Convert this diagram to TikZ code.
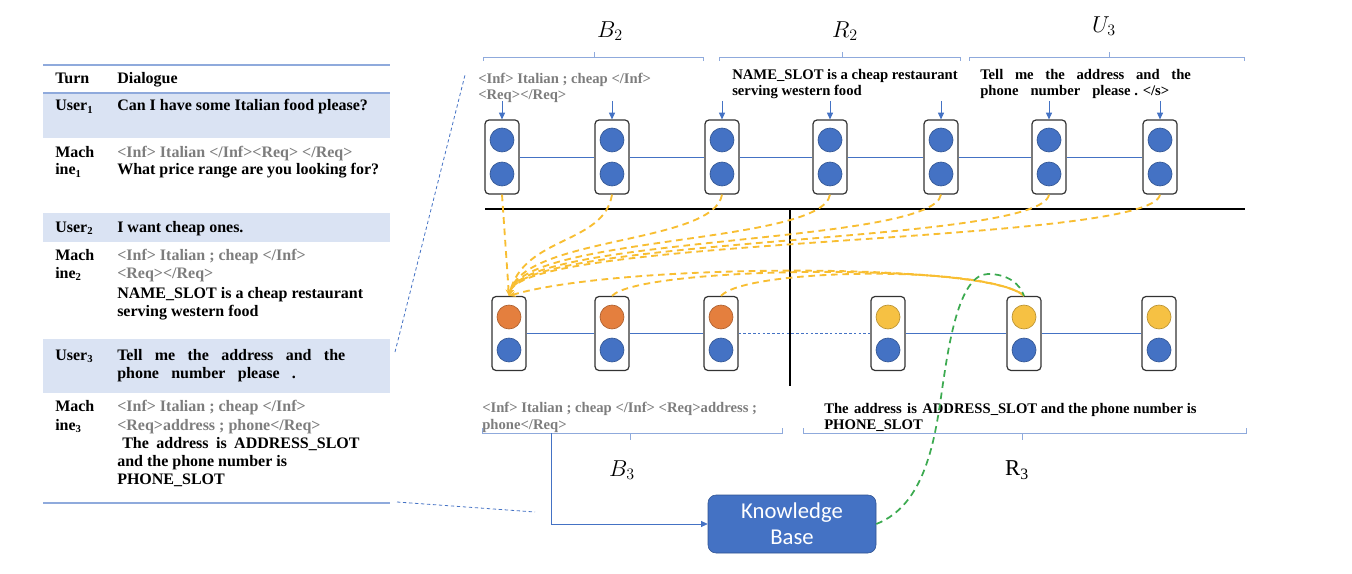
\documentclass[tikz,border=0pt]{standalone}
\usepackage{fontspec}
\setmainfont{Liberation Serif}
\newfontfamily\kbfont{Carlito}
\usetikzlibrary{arrows.meta}
\definecolor{cellblue}{RGB}{68,114,196}
\definecolor{cellrim}{RGB}{47,82,143}
\definecolor{tokorange}{RGB}{228,127,62}
\definecolor{tokgold}{RGB}{246,193,67}
\definecolor{attnyellow}{RGB}{248,190,50}
\definecolor{kbgreen}{RGB}{60,170,80}
\definecolor{rowshade}{RGB}{218,227,243}
\definecolor{ruleblue}{RGB}{143,170,220}
\definecolor{slotgray}{RGB}{125,125,125}

\begin{document}
\begin{tikzpicture}[x=0.75pt, y=-0.75pt,
  tab/.style={anchor=base west, inner sep=0pt, font=\fontsize{12}{14}\selectfont\bfseries},
  txt/.style={anchor=base west, inner sep=0pt, font=\fontsize{11}{13}\selectfont\bfseries},
  lbl/.style={inner sep=0pt, font=\fontsize{17}{20}\selectfont},
  cell/.style={draw=black!80, line width=0.9pt, rounded corners=3pt, minimum width=25.5pt, minimum height=55.5pt, inner sep=0pt},
  tok/.style={circle, draw=#1!75!black, fill=#1, line width=0.5pt, minimum size=18pt, inner sep=0pt},
  link/.style={cellblue, line width=0.6pt},
  feed/.style={cellblue, line width=0.6pt, -{Triangle[length=5pt,width=4.5pt]}},
  brace/.style={ruleblue, line width=0.6pt},
  attn/.style={attnyellow, line width=1.4pt, dash pattern=on 5pt off 3.5pt, -{Stealth[length=5pt,width=4.5pt]}},
  attnb/.style={attnyellow, line width=1.4pt, dash pattern=on 5pt off 3.5pt},
  zoomline/.style={cellblue, line width=0.6pt, dash pattern=on 2.5pt off 2pt}]
  \useasboundingbox (0,0) rectangle (1352,574);

  % dialogue table
  \fill[rowshade] (43,93) rectangle (390,138);
  \fill[rowshade] (43,213) rectangle (390,242);
  \fill[rowshade] (43,339) rectangle (390,393);
  \draw[ruleblue, line width=0.9pt] (43,65) -- (390,65);
  \draw[ruleblue, line width=0.9pt] (43,93) -- (390,93);
  \draw[ruleblue, line width=1.1pt] (43,503) -- (390,503);

  \node[tab] (hturn) at (55,84) {Turn};
  \node[tab] (hdial) at (117,84) {Dialogue};
  \node[tab] (u1) at (55,111) {User\textsubscript{1}};
  \node[tab] (u1t) at (117,111) {Can I have some Italian food please?};
  \node[tab] (m1a) at (55,157) {Mach};
  \node[tab] (m1b) at (55,175) {ine\textsubscript{1}};
  \node[tab, slotgray] (m1t1) at (117,157) {<Inf> Italian </Inf><Req> </Req>};
  \node[tab] (m1t2) at (117,175) {What price range are you looking for?};
  \node[tab] (u2) at (55,232) {User\textsubscript{2}};
  \node[tab] (u2t) at (117,232) {I want cheap ones.};
  \node[tab] (m2a) at (55,260) {Mach};
  \node[tab] (m2b) at (55,278) {ine\textsubscript{2}};
  \node[tab, slotgray] (m2t1) at (117,260) {<Inf> Italian ; cheap </Inf>};
  \node[tab, slotgray] (m2t2) at (117,278) {<Req></Req>};
  \node[tab] (m2t3) at (117,298) {NAME\_SLOT is a cheap restaurant};
  \node[tab] (m2t4) at (117,316) {serving western food};
  \node[tab] (u3) at (55,360) {User\textsubscript{3}};
  \node[tab] (u3t1) at (117,360) {\makebox[171pt][s]{Tell me the address and the}};
  \node[tab] (u3t2) at (117,378) {\makebox[134pt][s]{phone number please .}};
  \node[tab] (m3a) at (55,411) {Mach};
  \node[tab] (m3b) at (55,430) {ine\textsubscript{3}};
  \node[tab, slotgray] (m3t1) at (117,411) {<Inf> Italian ; cheap </Inf>};
  \node[tab, slotgray] (m3t2) at (117,430) {<Req>address ; phone</Req>};
  \node[tab] (m3t3) at (122,448) {\makebox[178pt][s]{The address is ADDRESS\_SLOT}};
  \node[tab] (m3t4) at (117,466) {and the phone number is};
  \node[tab] (m3t5) at (117,484) {PHONE\_SLOT};

  % zoom lines from the table
  \coordinate (zu1) at (395,352);
  \coordinate (zu2) at (465,75);
  \coordinate (zd1) at (397,502);
  \coordinate (zd2) at (535,512);
  \draw[zoomline] (zu1) -- (zu2);
  \draw[zoomline] (zd1) -- (zd2);

  % context tokens B2 R2 U3
  \foreach \i/\x in {1/502,2/612,3/722,4/830,5/941,6/1049,7/1160}{
    \node[cell] (t\i) at (\x,157) {};
    \node[tok=cellblue] (t\i-up) at (\x,140) {};
    \node[tok=cellblue] (t\i-lo) at (\x,174) {};
    \coordinate (in\i) at (\x,101);
    \draw[feed] (in\i) -- (t\i.north);
  }
  \foreach \i/\j in {1/2,2/3,3/4,4/5,5/6,6/7}
    \draw[link] (t\i.east) -- (t\j.west);

  % generated tokens B3 R3
  \foreach \i/\x/\c in {1/509/tokorange,2/612/tokorange,3/721/tokorange,4/888/tokgold,5/1024/tokgold,6/1159/tokgold}{
    \node[cell] (b\i) at (\x,333.5) {};
    \node[tok=\c] (b\i-up) at (\x,317) {};
    \node[tok=cellblue] (b\i-lo) at (\x,350) {};
  }
  \draw[link] (b1.east) -- (b2.west);
  \draw[link] (b2.east) -- (b3.west);
  \draw[link, line width=0.8pt, dash pattern=on 2pt off 1.6pt] (b3.east) -- (b4.west);
  \draw[link] (b4.east) -- (b5.west);
  \draw[link] (b5.east) -- (b6.west);

  \draw[black, line width=0.8pt] (485,209) -- (1245,209);
  \draw[black, line width=0.8pt] (790,209) -- (790,386);

  % brackets
  \draw[brace] (483,61) -- (483,57) -- (703,57) -- (703,61) (594,57) -- (594,52);
  \draw[brace] (719,61) -- (719,57) -- (960,57) -- (960,61) (842,57) -- (842,52);
  \draw[brace] (969,61) -- (969,57) -- (1244,57) -- (1244,61) (1109,57) -- (1109,52);
  \draw[brace] (482,428) -- (482,433) -- (782,433) -- (782,428) (630,433) -- (630,440);
  \draw[brace] (803,428) -- (803,433) -- (1246,433) -- (1246,428) (1022,433) -- (1022,440);

  \node[lbl] (lb2) at (610,31) {$B_2$};
  \node[lbl] (lr2) at (845,31) {$R_2$};
  \node[lbl] (lu3) at (1104,26) {$U_3$};
  \node[lbl] (lb3) at (622,470) {$B_3$};
  \node[lbl] (lr3) at (1017,470) {R\textsubscript{3}};

  \node[txt, slotgray] (b2a) at (478,84) {<Inf> Italian ; cheap </Inf>};
  \node[txt, slotgray] (b2b) at (478,100) {<Req></Req>};
  \node[txt] (r2a) at (732,80) {NAME\_SLOT is a cheap restaurant};
  \node[txt] (r2b) at (732,96) {serving western food};
  \node[txt] (u3a) at (980,80) {\makebox[158pt][s]{Tell me the address and the}};
  \node[txt] (u3b) at (980,96) {phone\hspace{9pt}number\hspace{9pt}please . </s>};
  \node[txt, slotgray] (b3a) at (482,412) {<Inf> Italian ; cheap </Inf> <Req>address ;};
  \node[txt, slotgray] (b3b) at (482,429) {phone</Req>};
  \node[txt] (r3a) at (824,413) {The\hspace{4pt}address\hspace{4pt}is\hspace{4pt}ADDRESS\_SLOT and the phone number is};
  \node[txt] (r3b) at (824,429) {PHONE\_SLOT};

  % knowledge base
  \node[draw=cellrim, fill=cellblue, rounded corners=6pt, minimum width=126pt, minimum height=43.5pt,
        text=white, align=center, font=\kbfont\fontsize{17}{19.5}\selectfont] (kb) at (792,524) {Knowledge\\Base};
  \coordinate (kbfeed) at (551,433);
  \draw[feed] (kbfeed) |- (kb.west);

  % attention
  \draw[attn] (t1.south) -- (b1.north);
  \foreach \i in {2,...,7}
    \draw[attn] (t\i.south) .. controls +(-8,50) and +(15,-60) .. (b1.north);
  \draw[attn] (b5.north) .. controls +(-34,-34) and +(111,-33) .. (b1.north);
  \draw[attnb] (b2.north) .. controls +(28,-30) and +(-34,-34) .. (b5.north);
  \draw[attnb] (b3.north) .. controls +(25,-28) and +(-36,-31) .. (b5.north);

  \draw[kbgreen, line width=1.3pt, dash pattern=on 5pt off 3.5pt]
    (kb.east) .. controls (925,505) and (935,440) .. (942,390)
    .. controls (948,350) and (958,274) .. (988,274)
    .. controls (1008,274) and (1020,284) .. (b5.north);
\end{tikzpicture}
\end{document}
